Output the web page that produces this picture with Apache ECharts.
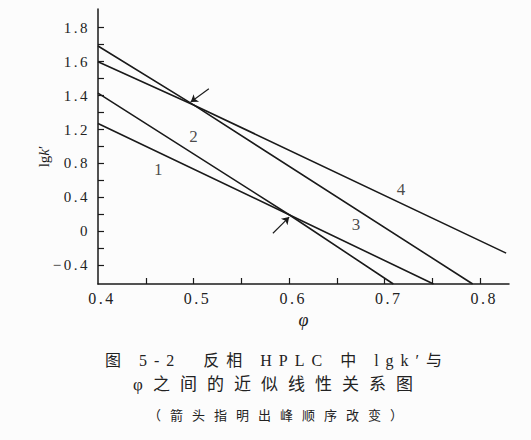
<!DOCTYPE html>
<html>
<head>
<meta charset="utf-8">
<script src="https://cdn.jsdelivr.net/npm/echarts@6/dist/echarts.min.js"></script>
<style>
  html, body { margin: 0; padding: 0; background: #fcfcfc; }
  #chart { width: 531px; height: 440px; }
  /* printed figure uses wide character spacing */
  #chart text[style*="TickSerif"] { letter-spacing: 2.5px; }
  #chart text[style*="CJK"][style*="16px"] { letter-spacing: 7px; }
  #chart text[style*="CJK"][style*="17px"] { letter-spacing: 10px; }
  #chart text[style*="CJK"][style*="13px"] { letter-spacing: 9px; }
</style>
</head>
<body>
<div id="chart"></div>
<script>
// ---- data (φ, internal lg k' scale: 0.2 per printed tick step) ----
const xTickValues = [0.4, 0.5, 0.6, 0.7, 0.8];
const xTickLabels = ['0.4', '0.5', '0.6', '0.7', '0.8'];
const yTickValues = [0.4, 0.6, 0.8, 1.0, 1.2, 1.4, 1.6, 1.8];
const yTickLabels = ['\u22120.4', '0', '0.4', '0.8', '1.2', '1.4', '1.6', '1.8'];

const line1 = [[0.400, 1.236], [0.600, 0.698], [0.751, 0.29]];
const line2 = [[0.400, 1.414], [0.600, 0.698], [0.709, 0.29]];
const line3 = [[0.400, 1.692], [0.500, 1.345], [0.792, 0.29]];
const line4 = [[0.400, 1.599], [0.500, 1.345], [0.827, 0.472]];

const lineNames = ['1', '2', '3', '4'];
const lineLabelPos = [[0.463, 0.965], [0.500, 1.159], [0.670, 0.643], [0.717, 0.846]];

const arrows = [
  [[0.516, 1.440], [0.497, 1.362]],
  [[0.583, 0.589], [0.600, 0.684]]
];

const caption = [
  '图 5-2  反相 HPLC 中 lgk\u2032与',
  'φ之间的近似线性关系图',
  '（箭头指明出峰顺序改变）'
];

// ---- chart ----
const SERIF = "'Liberation Serif', 'TickSerif', serif";
const CAP = "'Liberation Serif', 'Noto Sans CJK SC', serif";
const INK = '#1a1a1a';

const chart = echarts.init(document.getElementById('chart'), null, { renderer: 'svg' });

const lineSeries = [line1, line2, line3, line4].map((d, i) => ({
  name: lineNames[i],
  type: 'line',
  data: d,
  showSymbol: false,
  symbol: 'none',
  silent: true,
  lineStyle: { color: INK, width: 1.6 },
  animation: false
}));

chart.setOption({
  backgroundColor: '#fcfcfc',
  animation: false,
  title: [
    { text: caption[0], left: 277, top: 352, textAlign: 'center', padding: 0,
      textStyle: { fontSize: 16, fontFamily: CAP, fontWeight: 'normal', color: '#222' } },
    { text: caption[1], left: 278, top: 376, textAlign: 'center', padding: 0,
      textStyle: { fontSize: 17, fontFamily: CAP, fontWeight: 'normal', color: '#222' } },
    { text: caption[2], left: 280, top: 409, textAlign: 'center', padding: 0,
      textStyle: { fontSize: 13, fontFamily: CAP, fontWeight: 'normal', color: '#222' } }
  ],
  grid: { left: 98, right: 22, top: 9, bottom: 156 },
  xAxis: {
    type: 'value',
    min: 0.4,
    max: 0.83,
    name: 'φ',
    nameLocation: 'middle',
    nameGap: 20,
    nameTextStyle: { fontFamily: "'Liberation Serif', serif", fontStyle: 'italic', fontSize: 18, color: INK },
    axisLine: { show: true, onZero: false, lineStyle: { color: INK, width: 1.5 } },
    axisTick: {
      show: true, inside: true, length: 6,
      lineStyle: { color: INK, width: 1.2 },
      customValues: [0.45, 0.5, 0.55, 0.6, 0.65, 0.7, 0.75, 0.8]
    },
    axisLabel: {
      customValues: xTickValues,
      formatter: v => xTickLabels[Math.round((v - 0.4) / 0.1)],
      margin: 6,
      fontFamily: SERIF,
      fontSize: 16,
      color: '#222',
      padding: [0, 0, 0, 8]
    },
    splitLine: { show: false }
  },
  yAxis: {
    type: 'value',
    min: 0.29,
    max: 1.91,
    name: 'lg{i|k}\u2032',
    nameLocation: 'middle',
    nameRotate: 90,
    nameGap: 46,
    nameTextStyle: {
      fontFamily: "'Liberation Serif', serif", fontSize: 15, color: INK,
      padding: [0, 20, 0, 0],
      rich: { i: { fontFamily: "'Liberation Serif', serif", fontStyle: 'italic', fontSize: 15, color: INK } }
    },
    axisLine: { show: true, onZero: false, lineStyle: { color: INK, width: 1.5 } },
    axisTick: {
      show: true, inside: true, length: 6,
      lineStyle: { color: INK, width: 1.2 },
      customValues: [0.4, 0.5, 0.6, 0.7, 0.8, 0.9, 1.0, 1.1, 1.2, 1.3, 1.4, 1.5, 1.6, 1.7, 1.8]
    },
    axisLabel: {
      customValues: yTickValues,
      formatter: v => yTickLabels[Math.round((v - 0.4) / 0.2)],
      margin: 8,
      fontFamily: SERIF,
      fontSize: 15,
      color: '#222'
    },
    splitLine: { show: false }
  },
  series: [
    ...lineSeries,
    {
      name: 'arrows',
      type: 'lines',
      coordinateSystem: 'cartesian2d',
      silent: true,
      symbol: ['none', 'arrow'],
      symbolSize: 7,
      lineStyle: { color: INK, width: 1.1, opacity: 1, curveness: 0 },
      data: arrows.map(a => ({ coords: a })),
      animation: false,
      z: 3
    },
    {
      name: 'labels',
      type: 'scatter',
      silent: true,
      symbolSize: 1,
      itemStyle: { color: 'rgba(0,0,0,0)' },
      label: {
        show: true, position: 'inside', formatter: '{b}',
        fontFamily: "'Liberation Serif', serif", fontSize: 17, color: INK
      },
      data: lineLabelPos.map((p, i) => ({ name: lineNames[i], value: p })),
      animation: false
    }
  ]
});
</script>
</body>
</html>
